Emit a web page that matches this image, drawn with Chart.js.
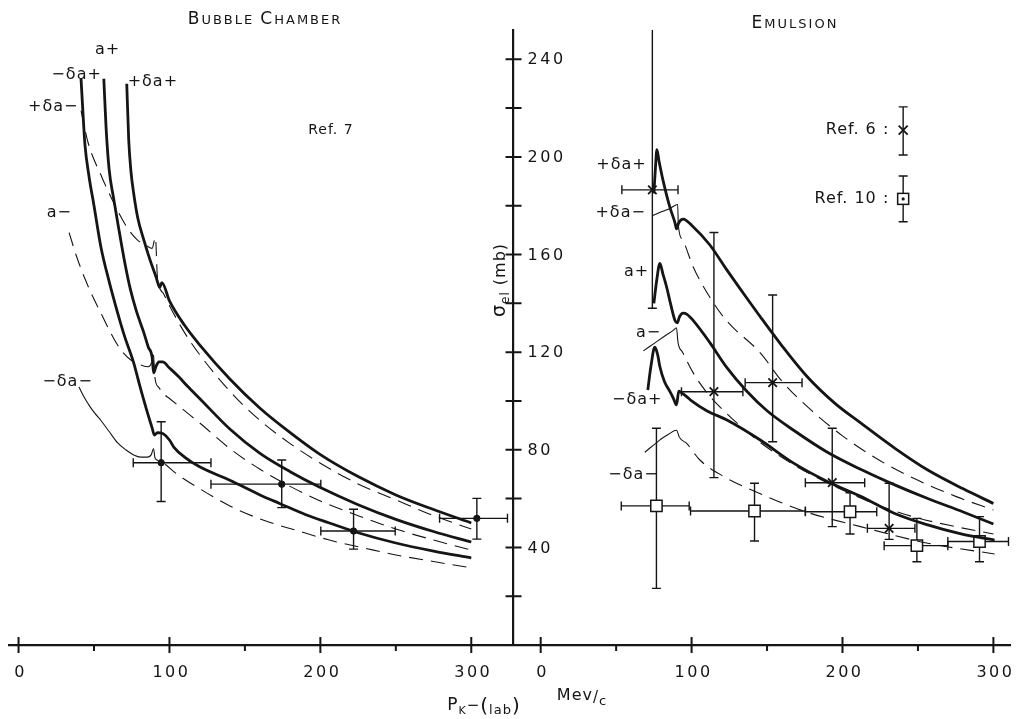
<!DOCTYPE html>
<html>
<head>
<meta charset="utf-8">
<script src="https://cdn.jsdelivr.net/npm/chart.js@4.4.1/dist/chart.umd.min.js"></script>
<style>
  html, body { margin: 0; padding: 0; background: #fff; }
  #wrap { width: 1021px; height: 719px; position: relative; }
</style>
</head>
<body>
<div id="wrap"><canvas id="chart"></canvas></div>
<script>
// The two panels share one x scale: emulsion values are shifted right by EM_SHIFT
const EM_SHIFT = 346;
const Y_AXIS_AT = 328; // where the sigma axis crosses, in x units

// ---------------- tick labels ----------------
const xMajorTicks = [0, 100, 200, 300];
const xMinorTicks = [50, 150, 250];
const xTickLabels = ['0', '100', '200', '300'];
const yTickValues = [20, 40, 60, 80, 100, 120, 140, 160, 180, 200, 220, 240];
const yTickLabels = ['', '40', '', '80', '', '120', '', '160', '', '200', '', '240'];

// ---------------- Bubble chamber (Ref. 7) ----------------
const bcP      = [94.5, 174.4, 222, 303.7];
const bcSigma  = [74.7, 65.9, 46.7, 51.9];
const bcPLo    = [76, 127.5, 200.3, 279];
const bcPHi    = [127.5, 200.3, 249.6, 324];
const bcSigLo  = [58.8, 56.3, 39.3, 43.4];
const bcSigHi  = [91.5, 75.8, 55.6, 60.1];

// bubble chamber curves
const bcPdpP = [71.7, 73, 74.5, 76.3, 79, 83, 87, 91, 92.5, 93.5, 95, 100, 110, 120, 140, 160, 180, 200, 225, 250, 275, 300];
const bcPdpS = [230, 207, 194, 185, 175, 166, 158, 151, 148, 146.5, 148.5, 141, 131, 123, 109, 97, 87, 78, 69, 61.5, 55.5, 50];
const bcPdmP = [41.4, 46, 55, 64.4, 72, 78.7, 85, 88.5, 90.7, 92, 96, 100, 110, 120, 140, 160, 180, 200, 225, 250, 275, 300];
const bcPdmS = [219, 206, 192, 179.5, 171, 166, 163.5, 162.5, 167, 151, 144, 139, 128, 119, 104, 92, 82.5, 74.5, 66, 59.5, 53, 47.5];
const bcApP  = [56.5, 58, 60, 63, 66, 70, 74, 78, 83, 86, 88.5, 89.5, 91, 93, 95.5, 100, 106, 112, 120, 140, 160, 180, 200, 225, 250, 275, 300];
const bcApS  = [232, 212, 195, 183, 172, 158, 146, 137, 128, 122, 118, 111.5, 114, 116, 116, 113.5, 110, 106, 101, 88.5, 78.5, 71, 64.5, 57.5, 51.5, 46.5, 42.2];
const bcAmP  = [33.5, 38, 43.4, 49, 54.6, 61, 67.7, 74, 80.9, 86, 88, 89.3, 90.5, 93, 96, 100, 112, 120, 140, 160, 180, 200, 225, 250, 275, 300];
const bcAmS  = [169, 160, 151, 143, 136, 128, 121, 117, 114.8, 114, 115.5, 119, 109, 105.5, 103, 101, 95, 91, 80.5, 72, 65, 59, 53, 47.5, 43, 38.9];
const bcMdpP = [41.4, 42.5, 44, 46.7, 50, 54.6, 60, 65.7, 70, 76.3, 80, 85.5, 88.5, 90, 92, 96, 100, 103, 110, 120, 140, 160, 173, 190, 206, 225, 250, 275, 300];
const bcMdpS = [232, 220, 205, 192, 180, 163, 149, 136, 127, 115.6, 107, 95, 89, 86, 87, 86.5, 84, 81, 77, 73, 67.5, 61.5, 58, 53.5, 50, 46, 41.8, 38.5, 35.7];
const bcMdmP = [40, 44, 47, 50.5, 54.6, 60, 65.7, 71, 76.3, 81, 85.5, 88, 89.4, 90.5, 93, 96, 105, 118, 140, 162, 185, 206, 230, 250, 275, 300];
const bcMdmS = [105.7, 101, 98, 95, 92, 87.5, 82.8, 80, 77.9, 77, 77, 78, 80.5, 76.5, 75.5, 74.6, 70, 64.8, 57, 51.2, 46.8, 43, 39.6, 36.9, 34.2, 31.6];

// ---------------- Emulsion (Ref. 6 crosses, Ref. 10 squares) ----------------
const em6P     = [74, 114.8, 153.7, 193.2, 230.9];
const em6Sigma = [186.5, 103.8, 107.5, 66.5, 47.8];
const em6PLo   = [53.8, 93.3, 135.5, 175.4, 216.5];
const em6PHi   = [91, 134, 173.2, 214.7, 248];
const em6SigLo = [138, 68.6, 83.3, 48.5, 43.3];
const em6SigHi = [262, 169, 143.4, 88.8, 66.3];

const em10P     = [76.7, 141.7, 205, 249.3, 290.8];
const em10Sigma = [57, 54.9, 54.6, 40.7, 42.4];
const em10PLo   = [53.4, 99.3, 175.4, 227.6, 269.8];
const em10PHi   = [98.4, 175.4, 222.7, 269.8, 310];
const em10SigLo = [23.2, 42.6, 45.5, 34.1, 34.1];
const em10SigHi = [88.8, 66.3, 62.4, 51.9, 52.6];

// emulsion curves
const emPdpP = [75, 76, 77, 78.5, 81, 85.5, 89, 90, 91.5, 94.4, 101, 112, 123, 135, 145.5, 160, 176.5, 195, 212, 235, 256.5, 280, 300];
const emPdpS = [185, 195, 203, 198, 190.6, 179.6, 173, 170.5, 173, 174.5, 171.4, 164, 154, 143.5, 134.5, 122.5, 110, 99, 91, 80.5, 71.7, 64, 58];
const emPdmP = [74.3, 80, 86, 90.8, 91.2, 94, 101, 112, 123, 145.5, 160, 180, 200, 225, 250, 275, 300];
const emPdmS = [176, 177.5, 179, 180.5, 172, 166, 155, 142.6, 133, 119.7, 108, 95.8, 85.7, 75.5, 67.5, 60.9, 55.3];
const emApP  = [75, 77, 79, 81, 83.4, 86, 89, 90.5, 92, 94.4, 97, 101, 112, 123, 136.6, 150, 167.6, 190, 212, 235, 256.5, 280, 300];
const emApS  = [140, 150, 156.4, 152, 146.8, 140, 133, 132, 134.5, 136, 135.5, 133, 124, 114, 104, 96, 88, 79, 72, 65.5, 60, 54.5, 49.6];
const emAmP  = [68, 75, 82, 88, 90, 91, 94, 101, 110, 123, 145.5, 170, 200, 225, 250, 275, 300];
const emAmS  = [120.5, 123.5, 126.5, 129, 130, 124, 120, 111.6, 103.5, 95, 83, 73, 63.5, 57, 52, 48.5, 45.5];
const emMdpP = [71, 73, 75.6, 77.5, 79, 82, 85.5, 88, 90, 91.5, 93, 96.7, 100, 110, 123.4, 145.5, 167.6, 189.9, 212.4, 234.2, 256.5, 278.6, 300.8];
const emMdpS = [104.5, 114, 122, 119, 114, 108, 104, 101, 98.4, 104, 103.5, 101.8, 100, 96, 92.2, 84, 74.5, 67, 60.8, 54, 49.2, 45.5, 43];
const emMdmP = [69, 75, 80, 85, 90, 92, 96.7, 105.5, 120, 145.5, 175.5, 212, 256.5, 300.8];
const emMdmS = [79, 82, 84.5, 86.5, 88, 85, 82.6, 75.8, 69.5, 62, 54.6, 48.5, 41.7, 37.3];

const INK = '#151515';
const FONT = '"DejaVu Sans", sans-serif';

const mk = (ps, ss, shift) => ps.map((p, i) => ({ x: p + shift, y: ss[i] }));

// solid before dashFrom, dashed after it (undefined = solid everywhere)
function curveSet(ps, ss, shift, thick, dashFrom) {
  const ds = {
    data: mk(ps, ss, shift),
    showLine: true,
    pointRadius: 0,
    borderColor: INK,
    borderWidth: thick ? 2.8 : 1.1,
    cubicInterpolationMode: 'monotone'
  };
  if (dashFrom !== undefined) {
    ds.segment = { borderDash: c => (c.p0.parsed.x >= dashFrom + shift - 0.01 ? [14, 8] : []) };
  }
  return ds;
}

function pointSet(ps, ss, lo, hi, sLo, sHi, shift, style) {
  return Object.assign({
    data: mk(ps, ss, shift),
    showLine: false,
    xErr: lo.map((v, i) => [v + shift, hi[i] + shift]),
    yErr: sLo.map((v, i) => [v, sHi[i]])
  }, style);
}

// error bars with caps, drawn under the markers
const errorBars = {
  id: 'errorBars',
  beforeDatasetsDraw(chart) {
    const { ctx, chartArea: a, scales: { x, y } } = chart;
    ctx.save();
    ctx.beginPath();
    ctx.rect(a.left, a.top, a.right - a.left, a.bottom - a.top);
    ctx.clip();
    ctx.strokeStyle = INK;
    ctx.lineWidth = 1.4;
    const cap = 4.5;
    chart.data.datasets.forEach(ds => {
      if (!ds.xErr) return;
      ds.data.forEach((pt, i) => {
        const px = x.getPixelForValue(pt.x), py = y.getPixelForValue(pt.y);
        const x0 = x.getPixelForValue(ds.xErr[i][0]), x1 = x.getPixelForValue(ds.xErr[i][1]);
        const y0 = y.getPixelForValue(ds.yErr[i][0]), y1 = y.getPixelForValue(ds.yErr[i][1]);
        ctx.beginPath();
        ctx.moveTo(x0, py); ctx.lineTo(x1, py);
        ctx.moveTo(x0, py - cap); ctx.lineTo(x0, py + cap);
        ctx.moveTo(x1, py - cap); ctx.lineTo(x1, py + cap);
        ctx.moveTo(px, y0); ctx.lineTo(px, y1);
        ctx.moveTo(px - cap, y0); ctx.lineTo(px + cap, y0);
        ctx.moveTo(px - cap, y1); ctx.lineTo(px + cap, y1);
        ctx.stroke();
      });
    });
    ctx.restore();
  }
};

function drawPieces(ctx, pieces, x, y, align) {
  // pieces: [text, size, dy]
  let w = 0;
  pieces.forEach(p => { ctx.font = p[1] + 'px ' + FONT; w += ctx.measureText(p[0]).width; });
  let cx = align === 'center' ? x - w / 2 : (align === 'right' ? x - w : x);
  ctx.textAlign = 'left';
  pieces.forEach(p => {
    ctx.font = p[1] + 'px ' + FONT;
    ctx.fillText(p[0], cx, y + (p[2] || 0));
    cx += ctx.measureText(p[0]).width;
  });
}

// axis ticks, tick labels, titles, curve labels and the reference legend
const decorations = {
  id: 'decorations',
  afterDraw(chart) {
    const { ctx, scales: { x, y } } = chart;
    const ax = x.getPixelForValue(Y_AXIS_AT);
    const by = y.getPixelForValue(0);
    ctx.save();
    ctx.strokeStyle = INK;
    ctx.fillStyle = INK;
    ctx.lineWidth = 2;
    ctx.beginPath();
    yTickValues.forEach(v => {
      const py = y.getPixelForValue(v);
      ctx.moveTo(ax - 8, py); ctx.lineTo(ax + 8, py);
    });
    [0, EM_SHIFT].forEach(s => {
      xMajorTicks.forEach(v => {
        const px = x.getPixelForValue(v + s);
        ctx.moveTo(px, by - 8); ctx.lineTo(px, by + 8);
      });
      xMinorTicks.forEach(v => {
        const px = x.getPixelForValue(v + s);
        ctx.moveTo(px, by); ctx.lineTo(px, by + 6);
      });
    });
    ctx.stroke();

    ctx.letterSpacing = '2.5px';
    ctx.font = '16px ' + FONT;
    ctx.textBaseline = 'middle';
    ctx.textAlign = 'left';
    yTickValues.forEach((v, i) => {
      if (yTickLabels[i]) ctx.fillText(yTickLabels[i], ax + 14, y.getPixelForValue(v) + 1);
    });
    ctx.textAlign = 'center';
    [0, EM_SHIFT].forEach(s => {
      xMajorTicks.forEach((v, i) => {
        ctx.fillText(xTickLabels[i], x.getPixelForValue(v + s) + 2, by + 28);
      });
    });

    // panel titles in small capitals
    ctx.letterSpacing = '2px';
    ctx.textBaseline = 'alphabetic';
    drawPieces(ctx, [['B', 17], ['UBBLE ', 13], ['C', 17], ['HAMBER', 13]], 265, 24, 'center');
    drawPieces(ctx, [['E', 17], ['MULSION', 13]], 795, 28, 'center');

    // x title
    ctx.letterSpacing = '1px';
    drawPieces(ctx, [['P', 17], ['K', 11, 4], ['\u2212', 15], ['(', 20, 2], ['lab', 13, 4], [')', 20, 2]], 484, 710, 'center');
    drawPieces(ctx, [['Me', 16], ['v', 16], ['/', 15, 2], ['c', 13, 5]], 582, 700, 'center');

    // y title, rotated
    ctx.save();
    ctx.translate(499, 280);
    ctx.rotate(-Math.PI / 2);
    drawPieces(ctx, [['\u03c3', 19], ['el', 12, 4], [' (mb)', 16]], 0, 6, 'center');
    ctx.restore();

    // curve labels (data coordinates)
    ctx.letterSpacing = '1px';
    ctx.textBaseline = 'middle';
    const labels = [
      ['+\u03b4a\u2212', 23, 220.5], ['\u2212\u03b4a+', 38.5, 233.6], ['a+', 59, 244], ['+\u03b4a+', 89, 230.7],
      ['a\u2212', 27, 177], ['\u2212\u03b4a\u2212', 32.5, 107.8],
      ['+\u03b4a+', 399.6, 196.7], ['+\u03b4a\u2212', 399, 177], ['a+', 409.5, 153], ['a\u2212', 417.5, 128],
      ['\u2212\u03b4a+', 410, 100.4], ['\u2212\u03b4a\u2212', 407.5, 69.7]
    ];
    ctx.font = '16px ' + FONT;
    ctx.textAlign = 'center';
    labels.forEach(l => ctx.fillText(l[0], x.getPixelForValue(l[1]), y.getPixelForValue(l[2])));

    // references
    ctx.font = '14px ' + FONT;
    ctx.fillText('Ref. 7', x.getPixelForValue(207), y.getPixelForValue(211));
    ctx.font = '16px ' + FONT;
    ctx.textAlign = 'right';
    ctx.fillText('Ref. 6 :', x.getPixelForValue(577), y.getPixelForValue(211));
    ctx.fillText('Ref. 10 :', x.getPixelForValue(577), y.getPixelForValue(182.8));

    // legend glyphs
    const lx = x.getPixelForValue(586.2);
    const g6 = y.getPixelForValue(211), g10 = y.getPixelForValue(182.8);
    ctx.lineWidth = 1.4;
    ctx.beginPath();
    [[g6, y.getPixelForValue(220.5), y.getPixelForValue(200.8)], [g10, y.getPixelForValue(192.2), y.getPixelForValue(173.4)]].forEach(b => {
      ctx.moveTo(lx, b[1]); ctx.lineTo(lx, b[2]);
      ctx.moveTo(lx - 4.5, b[1]); ctx.lineTo(lx + 4.5, b[1]);
      ctx.moveTo(lx - 4.5, b[2]); ctx.lineTo(lx + 4.5, b[2]);
    });
    ctx.stroke();
    ctx.lineWidth = 1.8;
    ctx.beginPath();
    ctx.moveTo(lx - 4.5, g6 - 4.5); ctx.lineTo(lx + 4.5, g6 + 4.5);
    ctx.moveTo(lx + 4.5, g6 - 4.5); ctx.lineTo(lx - 4.5, g6 + 4.5);
    ctx.stroke();
    ctx.fillStyle = '#fff';
    ctx.fillRect(lx - 5.5, g10 - 5.5, 11, 11);
    ctx.lineWidth = 1.5;
    ctx.strokeRect(lx - 5.5, g10 - 5.5, 11, 11);
    ctx.fillStyle = INK;
    ctx.beginPath(); ctx.arc(lx, g10, 1.6, 0, Math.PI * 2); ctx.fill();
    ctx.restore();
  }
};

const whiteBg = {
  id: 'whiteBg',
  beforeDraw(chart) {
    const { ctx, width, height } = chart;
    ctx.save(); ctx.fillStyle = '#fff'; ctx.fillRect(0, 0, width, height); ctx.restore();
  }
};

const ALL_DASH = -1000;
const datasets = [
  // bubble chamber curves
  curveSet(bcPdpP, bcPdpS, 0, true),
  curveSet(bcPdmP, bcPdmS, 0, false, ALL_DASH),
  curveSet(bcApP, bcApS, 0, true),
  curveSet(bcAmP, bcAmS, 0, false, ALL_DASH),
  curveSet(bcMdpP, bcMdpS, 0, true),
  curveSet(bcMdmP, bcMdmS, 0, false, 89.4),
  // emulsion curves
  curveSet(emPdpP, emPdpS, EM_SHIFT, true),
  curveSet(emPdmP, emPdmS, EM_SHIFT, false, 91.2),
  curveSet(emApP, emApS, EM_SHIFT, true),
  curveSet(emAmP, emAmS, EM_SHIFT, false, 91),
  curveSet(emMdpP, emMdpS, EM_SHIFT, true),
  curveSet(emMdmP, emMdmS, EM_SHIFT, false, 92),
  // data points
  pointSet(bcP, bcSigma, bcPLo, bcPHi, bcSigLo, bcSigHi, 0,
    { pointStyle: 'circle', pointRadius: 3.2, pointBackgroundColor: INK, pointBorderColor: INK }),
  pointSet(em6P, em6Sigma, em6PLo, em6PHi, em6SigLo, em6SigHi, EM_SHIFT,
    { pointStyle: 'crossRot', pointRadius: 6, pointBorderColor: INK, pointBorderWidth: 1.8 }),
  pointSet(em10P, em10Sigma, em10PLo, em10PHi, em10SigLo, em10SigHi, EM_SHIFT,
    { pointStyle: 'rect', pointRadius: 8, pointBackgroundColor: '#fff', pointBorderColor: INK, pointBorderWidth: 1.5 }),
  { data: mk(em10P, em10Sigma, EM_SHIFT), showLine: false, pointStyle: 'circle', pointRadius: 1.6,
    pointBackgroundColor: INK, pointBorderColor: INK }
];

new Chart(document.getElementById('chart'), {
  type: 'scatter',
  data: { datasets },
  options: {
    responsive: true,
    maintainAspectRatio: false,
    devicePixelRatio: 1,
    animation: false,
    layout: { padding: { left: 8, right: 11, top: 30, bottom: 74 } },
    plugins: { legend: { display: false }, tooltip: { enabled: false } },
    scales: {
      x: {
        type: 'linear', min: -6, max: 657, position: 'bottom',
        grid: { display: false, drawTicks: false },
        border: { display: true, color: INK, width: 2.2 },
        ticks: { display: false }
      },
      y: {
        type: 'linear', min: 0, max: 252, position: { x: Y_AXIS_AT },
        grid: { display: false, drawTicks: false },
        border: { display: true, color: INK, width: 2.2 },
        ticks: { display: false }
      }
    }
  },
  plugins: [whiteBg, errorBars, decorations]
});
</script>
</body>
</html>
